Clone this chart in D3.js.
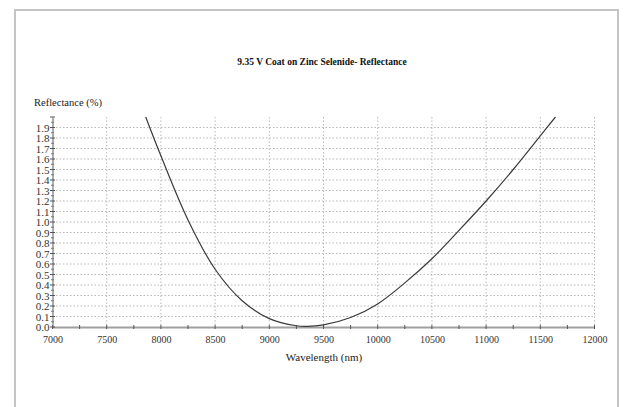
<!DOCTYPE html>
<html>
<head>
<meta charset="utf-8">
<script src="https://cdn.jsdelivr.net/npm/d3@7"></script>
<style>
  body { margin: 0; background: #fff; }
  svg text { font-family: "Liberation Serif", "DejaVu Serif", serif !important; }
</style>
</head>
<body>
<div id="chart"></div>
<script>
// Data
var wavelengths = [7860, 8000, 8250, 8500, 8750, 9000, 9250, 9350, 9500, 9750, 10000, 10250, 10500, 10750, 11000, 11250, 11500, 11640];
var reflectance = [2.00, 1.63, 1.02, 0.55, 0.25, 0.08, 0.012, 0.006, 0.02, 0.09, 0.22, 0.42, 0.65, 0.92, 1.20, 1.50, 1.82, 2.00];
var xTicks = [7000, 7500, 8000, 8500, 9000, 9500, 10000, 10500, 11000, 11500, 12000];
var yTicks = [0.0, 0.1, 0.2, 0.3, 0.4, 0.5, 0.6, 0.7, 0.8, 0.9, 1.0, 1.1, 1.2, 1.3, 1.4, 1.5, 1.6, 1.7, 1.8, 1.9];

(function() {
    var W = 624, H = 407;
    var margin = { left: 52.5, right: 29.5, top: 117, bottom: 80 };
    var width = W - margin.left - margin.right,
        height = H - margin.top - margin.bottom;

    var svg = d3.select("#chart").append("svg")
        .attr("width", W)
        .attr("height", H);

    // outer frame
    svg.append("rect")
        .attr("x", 15).attr("y", 10)
        .attr("width", 603).attr("height", 410)
        .attr("fill", "none")
        .attr("stroke", "#c4c4c4")
        .attr("stroke-width", 2);

    var x = d3.scaleLinear().domain([7000, 12000]).range([0, width]);
    var y = d3.scaleLinear().domain([0, 2.0]).range([height, 0]);

    var g = svg.append("g")
        .attr("transform", "translate(" + margin.left + "," + margin.top + ")");

    // grid
    g.append("g").selectAll("line")
        .data(yTicks.slice(1))
        .enter().append("line")
        .attr("x1", 0).attr("x2", width)
        .attr("y1", function(d) { return y(d); })
        .attr("y2", function(d) { return y(d); })
        .attr("stroke", "#b8b8b8")
        .attr("stroke-dasharray", "1.5,2");

    g.append("g").selectAll("line")
        .data(xTicks.slice(1))
        .enter().append("line")
        .attr("y1", 0).attr("y2", height)
        .attr("x1", function(d) { return x(d); })
        .attr("x2", function(d) { return x(d); })
        .attr("stroke", "#b8b8b8")
        .attr("stroke-dasharray", "1.5,2");

    // x axis
    var xAxis = g.append("g")
        .attr("transform", "translate(0," + height + ")")
        .call(d3.axisBottom(x).tickValues(xTicks).tickSize(0).tickPadding(9).tickFormat(d3.format("d")));
    xAxis.select(".domain").attr("stroke", "#a0a0a0").attr("stroke-width", 2);
    xAxis.selectAll("text").attr("font-size", "10px").attr("fill", "#333");

    var xMinor = d3.range(7000, 12001, 250);
    g.append("g").selectAll("line")
        .data(xMinor)
        .enter().append("line")
        .attr("x1", function(d) { return x(d); })
        .attr("x2", function(d) { return x(d); })
        .attr("y1", height - 2).attr("y2", height + 2)
        .attr("stroke", "#555").attr("stroke-width", 1);

    // y axis
    var yAxis = g.append("g")
        .call(d3.axisLeft(y).tickValues(yTicks).tickSize(0).tickPadding(3).tickFormat(d3.format(".1f")));
    yAxis.select(".domain").attr("stroke", "#777").attr("stroke-width", 1.2);
    yAxis.selectAll("text").attr("font-size", "11px").attr("fill", "#333");

    var yMajor = yTicks.concat([2.0]);
    g.append("g").selectAll("line")
        .data(yMajor)
        .enter().append("line")
        .attr("x1", -2.5).attr("x2", 2.5)
        .attr("y1", function(d) { return y(d); })
        .attr("y2", function(d) { return y(d); })
        .attr("stroke", "#555");
    g.append("g").selectAll("line")
        .data(yTicks)
        .enter().append("line")
        .attr("x1", -1.5).attr("x2", 1.5)
        .attr("y1", function(d) { return y(d + 0.05); })
        .attr("y2", function(d) { return y(d + 0.05); })
        .attr("stroke", "#777");

    // curve
    var pts = wavelengths.map(function(w, i) { return [w, reflectance[i]]; });
    var line = d3.line()
        .x(function(d) { return x(d[0]); })
        .y(function(d) { return Math.min(y(d[1]), height); })
        .curve(d3.curveCatmullRom.alpha(0.5));
    g.append("path")
        .datum(pts)
        .attr("d", line)
        .attr("fill", "none")
        .attr("stroke", "#3a3a3a")
        .attr("stroke-width", 1.2);

    // titles
    svg.append("text")
        .attr("x", 322).attr("y", 65)
        .attr("text-anchor", "middle")
        .attr("font-size", "9.5px").attr("font-weight", "bold").attr("fill", "#111")
        .text("9.35 V Coat on Zinc Selenide- Reflectance");

    svg.append("text")
        .attr("x", 34).attr("y", 106)
        .attr("font-size", "10.5px").attr("fill", "#222")
        .text("Reflectance (%)");

    svg.append("text")
        .attr("x", 324).attr("y", 361)
        .attr("text-anchor", "middle")
        .attr("font-size", "11px").attr("fill", "#222")
        .text("Wavelength (nm)");
})();
</script>
</body>
</html>
